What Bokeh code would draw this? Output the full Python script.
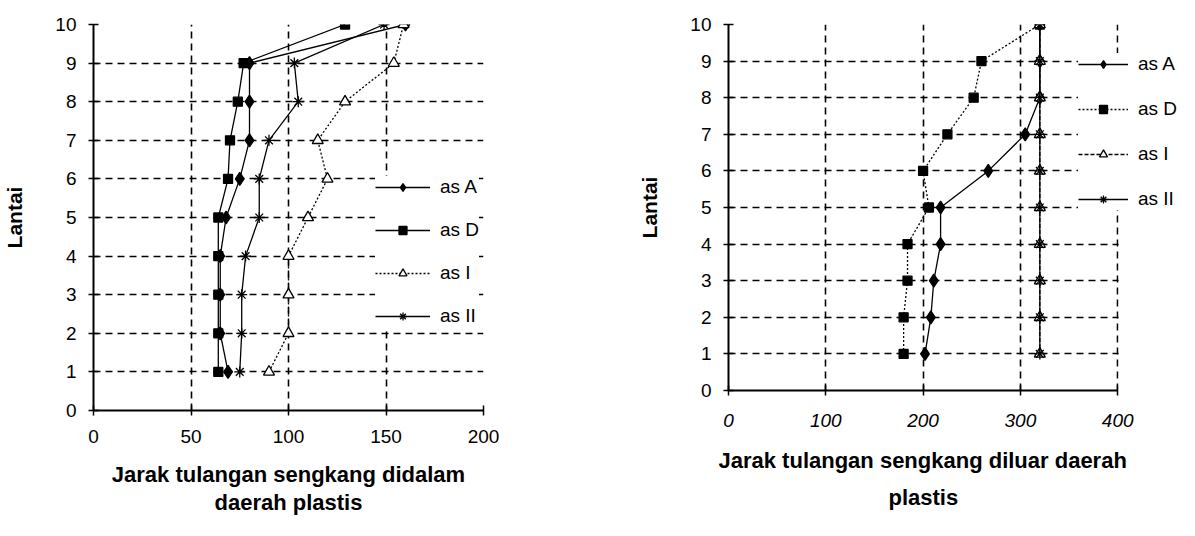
from bokeh.plotting import figure
from bokeh.models import FixedTicker, Legend, LegendItem, BoxAnnotation, Title
from bokeh.layouts import row
from bokeh.embed import file_html
from bokeh.resources import INLINE

# Floor numbers (Lantai)
floors = [1, 2, 3, 4, 5, 6, 7, 8, 9, 10]

# Stirrup spacing inside the plastic zone, per axis
in_as_A = [69, 65, 65, 65, 68, 75, 80, 80, 80, 160]
in_as_D = [64, 64, 64, 64, 64, 69, 70, 74, 77, 129]
in_as_I = [90, 100, 100, 100, 110, 120, 115, 129, 154, 159]
in_as_II = [75, 76, 76, 78, 85, 85, 90, 105, 103, 149]

# Stirrup spacing outside the plastic zone, per axis
out_as_A = [202, 208, 211, 218, 218, 267, 305, 320, 320, 320]
out_as_D = [180, 180, 184, 184, 206, 200, 225, 252, 260, 320]
out_as_I = [320, 320, 320, 320, 320, 320, 320, 320, 320, 320]
out_as_II = [320, 320, 320, 320, 320, 320, 320, 320, 320, 320]

series_names = ["as A", "as D", "as I", "as II"]
left_ticks_x = [0, 50, 100, 150, 200]
right_ticks_x = [0, 100, 200, 300, 400]
ticks_y = [0, 1, 2, 3, 4, 5, 6, 7, 8, 9, 10]

FONT = "Liberation Sans"


def make_panel(series, x_max, x_view, xticks, xgrid_ticks, ygrid_ticks, title_x,
               borders, frame, line_dashes, legend_cfg, label_standoffs,
               title_lines=None, italic_x=False):
    left, right, top, bottom = borders
    fw, fh = frame
    p = figure(x_range=(0, x_view), y_range=(0, 10),
               frame_width=fw, frame_height=fh,
               min_border_left=left, min_border_right=right,
               min_border_top=top, min_border_bottom=bottom,
               output_backend="svg", toolbar_location=None,
               background_fill_color="white", border_fill_color="white")
    p.outline_line_color = None

    # axes
    for ax in (p.xaxis[0], p.yaxis[0]):
        ax.axis_line_color = "black"
        ax.axis_line_width = 2
        ax.major_tick_line_color = "black"
        ax.major_tick_line_width = 1.5
        ax.major_tick_in = 5
        ax.major_tick_out = 5
        ax.minor_tick_line_color = None
        ax.major_label_text_font = FONT
        ax.major_label_text_font_size = "19px"
        ax.major_label_text_color = "black"
        ax.axis_label_text_font = FONT
        ax.axis_label_text_font_style = "bold"
        ax.axis_label_text_color = "black"
    p.xaxis.bounds = (0, x_max)
    p.xaxis.ticker = FixedTicker(ticks=xticks)
    p.yaxis.ticker = FixedTicker(ticks=ticks_y)
    tick_standoff, title_standoff = label_standoffs
    p.xaxis.major_label_standoff = tick_standoff
    p.yaxis.major_label_standoff = 12
    if italic_x:
        p.xaxis.major_label_text_font_style = "italic"
    if title_lines is None:
        p.xaxis.axis_label = title_x
        p.xaxis.axis_label_text_font_size = "22px"
        p.xaxis.axis_label_standoff = title_standoff
        p.xaxis.axis_label_text_line_height = 1.15
    else:
        # one title per line, each placed under the 0..x_max span
        for text, offset, standoff in title_lines:
            p.add_layout(Title(text=text, align="left", offset=offset,
                               standoff=standoff, text_font=FONT,
                               text_font_style="bold", text_font_size="22px",
                               text_color="black"), "below")
    p.yaxis.axis_label = "Lantai"
    p.yaxis.axis_label_text_font_size = "21px"
    p.yaxis.axis_label_standoff = 26

    # dashed grid
    p.xgrid.ticker = FixedTicker(ticks=xgrid_ticks)
    p.ygrid.ticker = FixedTicker(ticks=ygrid_ticks)
    for g in (p.xgrid[0], p.ygrid[0]):
        g.grid_line_color = "black"
        g.grid_line_width = 1.6
        g.grid_line_dash = "7 5"

    # blank out the area to the right of the last x value
    if x_view > x_max:
        p.add_layout(BoxAnnotation(left=x_max + 1, fill_color="white", fill_alpha=1.0,
                                   line_alpha=0))

    markers = [
        dict(marker="diamond", size=13, fill_color="black"),
        dict(marker="square", size=9, fill_color="black"),
        dict(marker="triangle", size=11, fill_color="white"),
        dict(marker="asterisk", size=11, fill_color="black"),
    ]
    items = []
    for name, xs, mk, dash in zip(series_names, series, markers, line_dashes):
        ln = p.line(xs, floors, line_color="black", line_width=1.3, line_dash=dash)
        sc = p.scatter(xs, floors, marker=mk["marker"], size=mk["size"],
                       fill_color=mk["fill_color"], line_color="black", line_width=1.3)
        items.append(LegendItem(label=name, renderers=[ln, sc]))

    lx, ly, pad, spacing, gw = legend_cfg
    legend = Legend(items=items, location=(lx, ly), padding=pad, spacing=spacing,
                    glyph_width=gw, glyph_height=20, label_height=20,
                    label_standoff=10, margin=0,
                    label_text_font=FONT, label_text_font_size="19px",
                    label_text_color="black",
                    background_fill_color="white", background_fill_alpha=1.0,
                    border_line_color=None)
    p.add_layout(legend)
    return p


left = make_panel(
    [in_as_A, in_as_D, in_as_I, in_as_II], 200, 200, left_ticks_x,
    [50, 100, 150, 200], [1, 2, 3, 4, 5, 6, 7, 8, 9, 10],
    "Jarak tulangan sengkang didalam\ndaerah plastis",
    borders=(93, 117, 24, 126), frame=(390, 386),
    line_dashes=["solid", "solid", "2 2", "solid"],
    legend_cfg=(282, 83, 18, 21, 55),
    label_standoffs=(14, 16),
)

right = make_panel(
    [out_as_A, out_as_D, out_as_I, out_as_II], 400, 480, right_ticks_x,
    [100, 200, 300, 400], [1, 2, 3, 4, 5, 6, 7, 8, 9],
    None,
    borders=(128, 0, 22, 148), frame=(467, 366),
    line_dashes=["solid", "2 2", "4 2", "solid"],
    legend_cfg=(350, 180, 13, 23, 50),
    label_standoffs=(18, 18),
    title_lines=[("Jarak tulangan sengkang diluar daerah", -10, 33),
                 ("plastis", 160, -40)],
    italic_x=True,
)

layout = row(left, right)
open("out.html", "w").write(file_html(layout, INLINE))
